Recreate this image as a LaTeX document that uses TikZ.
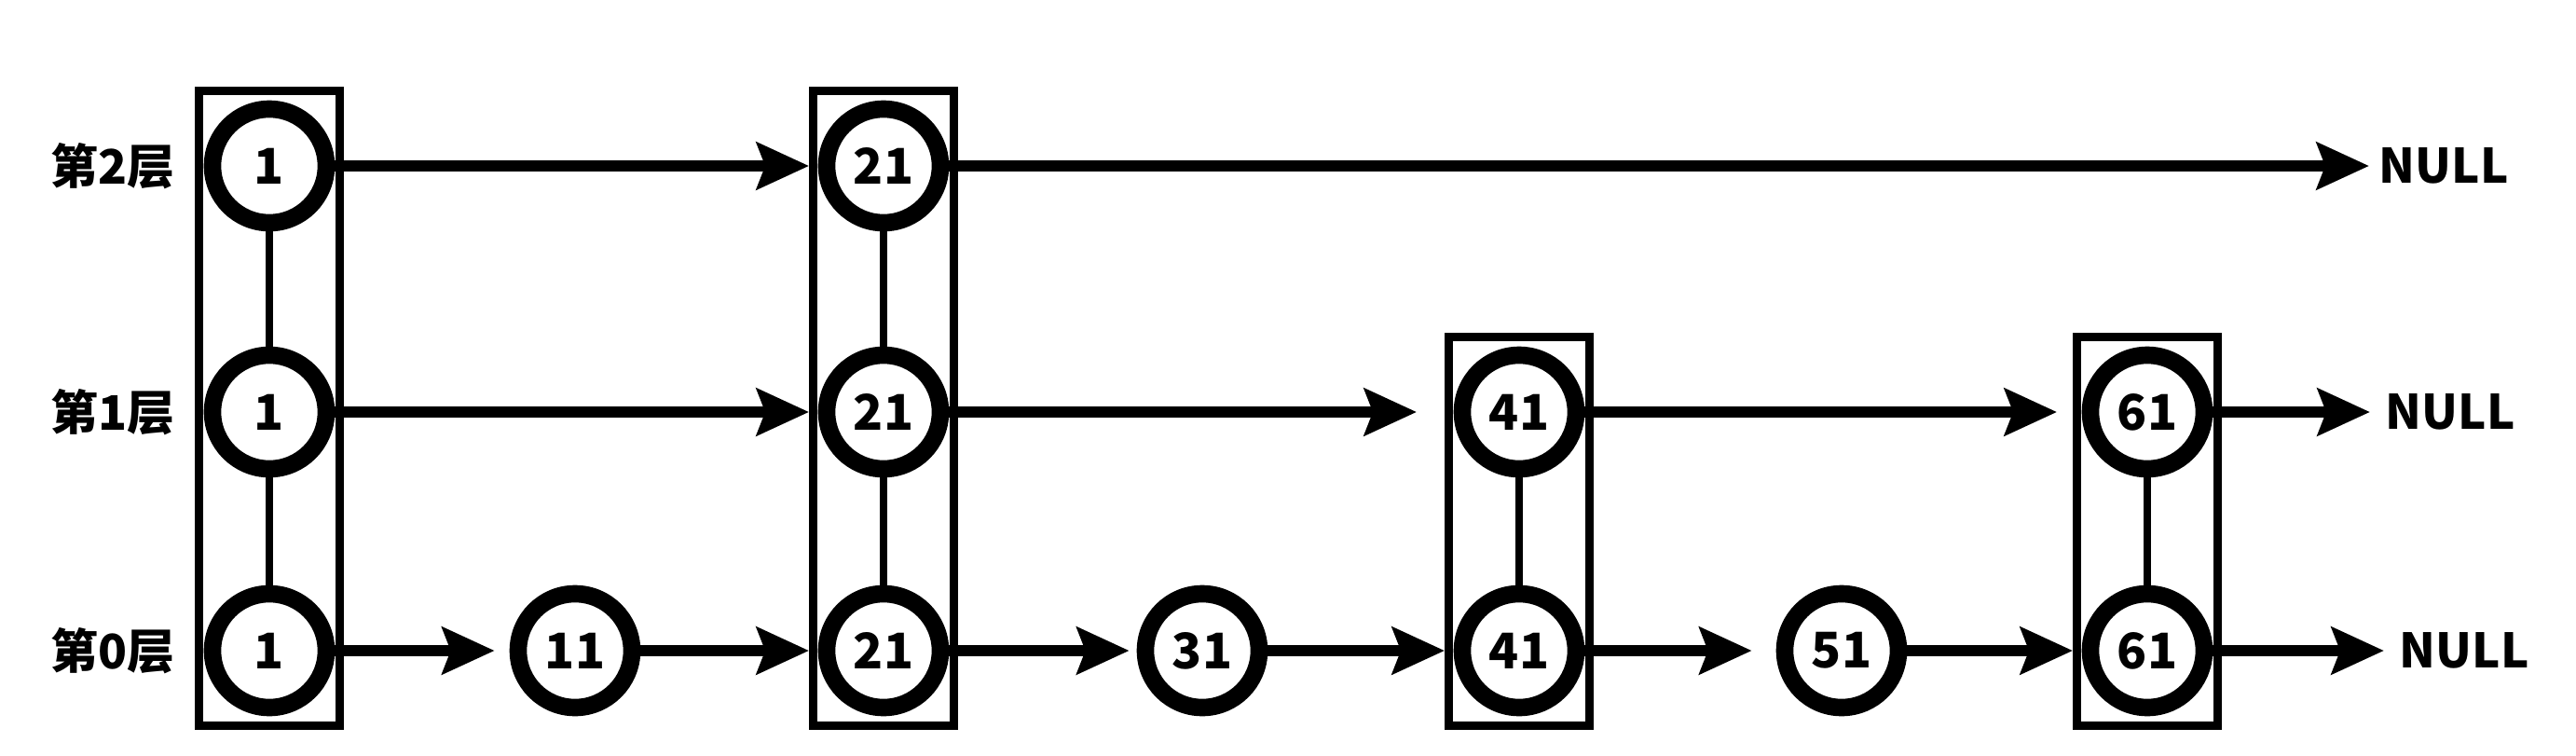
\documentclass[tikz,border=0pt]{standalone}
\usepackage{fontspec}
\setmainfont{Noto Sans CJK SC}
\usetikzlibrary{arrows.meta,fit}
\tikzstyle{nd}=[circle,fill=white,draw=black,line width=5.3pt,
  minimum size=1.22cm,inner sep=0pt,font=\bfseries\fontsize{15}{18}\selectfont]
\tikzstyle{colbox}=[rectangle,draw=black,line width=2.6pt,
  inner xsep=0.05cm,inner ysep=0.1cm]
\tikzstyle{lbl}=[anchor=east,inner sep=0pt,font=\bfseries\fontsize{14.5}{18}\selectfont]
\tikzstyle{nl}=[anchor=west,inner sep=0pt,font=\bfseries\fontsize{14.5}{18}\selectfont]
\tikzstyle{arr}=[-{Stealth[length=0.56cm,width=0.5cm,inset=0.09cm]},line width=3.3pt]
\tikzstyle{link}=[line width=2.3pt]
\tikzstyle{none}=[]
\begin{document}
\begin{tikzpicture}
		\useasboundingbox (0, 0) rectangle (27.64, 8.10);
		\node [style=nd] (0) at (2.89, 6.32) {1};
		\node [style=nd] (1) at (2.89, 3.68) {1};
		\node [style=nd] (2) at (2.89, 1.12) {1};
		\node [style=nd] (3) at (6.17, 1.12) {11};
		\node [style=nd] (4) at (9.48, 6.32) {21};
		\node [style=nd] (5) at (9.48, 3.68) {21};
		\node [style=nd] (6) at (9.48, 1.12) {21};
		\node [style=nd] (7) at (12.90, 1.12) {31};
		\node [style=nd] (8) at (16.30, 3.68) {41};
		\node [style=nd] (9) at (16.30, 1.12) {41};
		\node [style=nd] (10) at (19.76, 1.12) {51};
		\node [style=nd] (11) at (23.04, 3.68) {61};
		\node [style=nd] (12) at (23.04, 1.12) {61};
		\node [style=colbox, fit=(0)(2)] (13) {};
		\node [style=colbox, fit=(4)(6)] (14) {};
		\node [style=colbox, fit=(8)(9)] (15) {};
		\node [style=colbox, fit=(11)(12)] (16) {};
		\node [style=lbl] (17) at (1.88, 6.32) {第2层};
		\node [style=lbl] (18) at (1.88, 3.68) {第1层};
		\node [style=lbl] (19) at (1.88, 1.12) {第0层};
		\node [style=nl] (20) at (25.52, 6.32) {NULL};
		\node [style=nl] (21) at (25.59, 3.68) {NULL};
		\node [style=nl] (22) at (25.74, 1.12) {NULL};
		\draw [style=link] (0) to (1);
		\draw [style=link] (1) to (2);
		\draw [style=link] (4) to (5);
		\draw [style=link] (5) to (6);
		\draw [style=link] (8) to (9);
		\draw [style=link] (11) to (12);
		\draw [style=arr] (0) to (0 -| 14.west);
		\draw [style=arr, shorten >=0.1cm] (4) to (20);
		\draw [style=arr] (1) to (1 -| 14.west);
		\draw [style=arr, shorten >=0.3cm] (5) to (8 -| 15.west);
		\draw [style=arr, shorten >=0.17cm] (8) to (11 -| 16.west);
		\draw [style=arr, shorten >=0.16cm] (11) to (21);
		\draw [style=arr, shorten >=0.16cm] (2) to (3);
		\draw [style=arr] (3) to (3 -| 14.west);
		\draw [style=arr, shorten >=0.08cm] (6) to (7);
		\draw [style=arr] (7) to (7 -| 15.west);
		\draw [style=arr, shorten >=0.26cm] (9) to (10);
		\draw [style=arr] (10) to (10 -| 16.west);
		\draw [style=arr, shorten >=0.16cm] (12) to (22);
\end{tikzpicture}
\end{document}
